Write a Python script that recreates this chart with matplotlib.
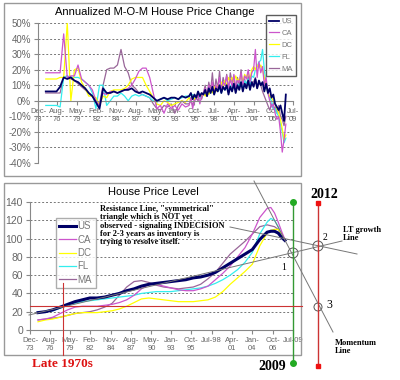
import numpy as np
import matplotlib
matplotlib.use("Agg")
import matplotlib.pyplot as plt
from matplotlib.patches import Rectangle, Circle

# ---- data ----
series = ["US", "CA", "DC", "FL", "MA"]
colors = {"US": "#000066", "CA": "#cc55cc", "DC": "#ffff00", "FL": "#33eeee", "MA": "#996699"}

tick_pos = [1973.917, 1976.583, 1979.333, 1982.083, 1984.833, 1987.583, 1990.333,
            1993.0, 1995.75, 1998.5, 2001.25, 2004.0, 2006.75, 2009.5]
tick_top = ["Dec-\n73", "Aug-\n76", "May-\n79", "Feb-\n82", "Nov-\n84", "Aug-\n87", "May-\n90",
            "Jan-\n93", "Oct-\n95", "Jul-\n98", "Apr-\n01", "Jan-\n04", "Oct-\n06", "Jul-\n09"]
tick_bot = ["Dec-\n73", "Aug-\n76", "May-\n79", "Feb-\n82", "Nov-\n84", "Aug-\n87", "May-\n90",
            "Jan-\n93", "Oct-\n95", "Jul-98", "Apr-\n01", "Jan-\n04", "Oct-\n06", "Jul-09"]

# top chart: semiannual 1975-1994.5, quarterly 1995-2008.5 (annualized % change)
t_top = np.r_[np.arange(1975, 1995, 0.5), np.arange(1995, 2008.51, 0.25)]

us_chg = [6, 6, 6, 6, 9, 15, 14, 15, 13, 12, 10, 8, 5, 3, -1, -5, 8, 5, 5, 6,
          5, 6, 7, 7, 8, 6, 5, 6, 5, 4, 2, 0, 1, 2, 1, 2, 2, 1, 3, 2,
          3, 5, 1, 4, 2, 6, 3, 5, 4, 7, 3, 8, 5, 9, 4, 8, 6, 10, 5, 9,
          7, 10, 4, 9, 6, 11, 5, 10, 7, 12, 6, 11, 8, 13, 7, 12, 9, 14, 8, 13,
          10, 12, 6, 11, 5, 8, 2, 4, -2, -4, -6, -3, -8, -13, 4]
ca_chg = [18, 18, 18, 18, 18, 43, 15, 16, 16, 23, 14, 12, 10, 7, 0, -3, 5, 4, 6, 6,
          5, 6, 7, 8, 10, 14, 19, 21, 21, 15, 5, -5, -3, -8, -2, -5, -3, -6, -2, -4,
          -3, 2, -5, 0, 1, 4, -2, 3, 5, 8, 3, 10, 6, 12, 4, 10, 8, 15, 6, 12,
          10, 16, 8, 14, 9, 17, 7, 13, 12, 18, 10, 16, 14, 20, 12, 18, 20, 33, 15, 25,
          18, 22, 10, 15, 5, 0, -4, -2, -8, -12, -10, -20, -33, -25, -15]
dc_chg = [14, 14, 14, 14, 15, 15, 50, 0, 20, 21, 12, 8, 3, 3, 2, -3, 3, 2, 6, 7,
          7, 7, 8, 10, 14, 15, 15, 15, 10, 6, 2, -2, -3, 0, -1, -3, -2, -1, 0, -1,
          2, 0, 3, 1, 3, 2, 4, 3, 5, 3, 6, 4, 7, 5, 9, 6, 10, 8, 12, 9,
          13, 10, 15, 12, 15, 12, 16, 13, 14, 16, 12, 17, 15, 18, 14, 20, 22, 20, 23, 21,
          23, 20, 15, 10, 5, 3, 2, 0, -2, -5, -8, -12, -18, -25, -22]
fl_chg = [-3, -3, -3, -3, -4, 15, 16, 15, 15, 15, 14, 12, 10, 5, -5, 10, 10, -3, 0, 3,
          3, 5, 3, 0, 3, 4, 3, 4, 3, 2, 0, -1, 1, 2, 0, 1, 2, 1, 2, 3,
          3, 1, 4, 2, 3, 5, 2, 4, 4, 6, 3, 5, 5, 7, 4, 8, 6, 8, 5, 9,
          7, 9, 6, 10, 8, 10, 7, 11, 9, 12, 8, 13, 11, 14, 10, 16, 15, 20, 22, 25,
          26, 33, 20, 10, 5, 2, 0, -5, -5, -8, -10, -15, -20, -27, -24]
ma_chg = [5, 5, 5, 5, 5, 15, 16, 14, 13, 11, 9, 7, 5, 3, 0, -2, 10, 20, 21, 21,
          23, 33, 22, 18, 10, 8, 5, 4, 3, 2, -2, -5, -6, -3, -4, -2, -8, -3, 0, -2,
          -2, 0, -3, 1, 2, 0, 3, 1, 5, 10, 3, 12, 6, 18, 5, 14, 8, 19, 7, 15,
          10, 17, 6, 18, 12, 16, 8, 15, 10, 20, 9, 14, 8, 16, 10, 12, 12, 15, 8, 11,
          10, 6, 3, 0, -3, -6, -2, -5, -4, -8, -3, -10, -12, -16, -10]

# bottom chart: price level index
t_lvl = [1975, 1976, 1977, 1978, 1979, 1980, 1981, 1982, 1983, 1984, 1985, 1986, 1987,
         1988, 1989, 1990, 1991, 1992, 1993, 1994, 1995, 1996, 1997, 1998, 1999, 2000,
         2001, 2002, 2003, 2004, 2005, 2006, 2006.5, 2007, 2007.5, 2008, 2008.4]
us_lvl = [19, 20, 22, 25, 28, 31, 33, 35, 35, 36, 38, 40, 43, 45, 48, 50, 51, 52, 53,
          54, 55, 57, 58, 60, 63, 68, 73, 78, 83, 88, 99, 107, 108, 108, 106, 101, 98]
ca_lvl = [11, 12, 14, 18, 22, 25, 26, 26, 26, 27, 28, 30, 33, 38, 45, 50, 50, 48, 46,
          44, 43, 43, 45, 48, 55, 62, 70, 80, 90, 105, 123, 133, 134, 128, 118, 107, 99]
dc_lvl = [9, 11, 12, 14, 16, 18, 19, 19, 19, 20, 21, 23, 26, 30, 34, 35, 34, 33, 32,
          31, 31, 31, 32, 33, 36, 42, 50, 57, 64, 72, 92, 106, 109, 110, 110, 105, 99]
fl_lvl = [20, 20, 21, 24, 27, 29, 31, 32, 33, 34, 35, 36, 37, 38, 40, 41, 42, 42, 42,
          43, 44, 45, 46, 48, 51, 55, 60, 66, 74, 85, 105, 118, 122, 120, 113, 104, 98]
ma_lvl = [11, 12, 13, 14, 16, 18, 19, 20, 22, 25, 29, 38, 47, 53, 54, 52, 49, 47, 46,
          45, 46, 47, 50, 56, 63, 73, 83, 90, 97, 105, 113, 115, 114, 113, 110, 104, 99]

chg = {"US": us_chg, "CA": ca_chg, "DC": dc_chg, "FL": fl_chg, "MA": ma_chg}
lvl = {"US": us_lvl, "CA": ca_lvl, "DC": dc_lvl, "FL": fl_lvl, "MA": ma_lvl}

plt.rcParams['font.family'] = ['Liberation Sans', 'DejaVu Sans']
W, H = 400, 380
fig = plt.figure(figsize=(4, 3.8), dpi=100)
tc = "#666666"

def px(x0, y0, x1, y1):
    return [x0 / W, 1 - y1 / H, (x1 - x0) / W, (y1 - y0) / H]

# ---- top chart ----
ax1 = fig.add_axes(px(38, 23, 293, 163))
for s in ["MA", "FL", "DC", "CA", "US"]:
    ax1.plot(t_top, chg[s], color=colors[s], lw=1.3 if s == "US" else 0.9,
             label=s, zorder=3 if s == "US" else 2)
ax1.set_xlim(tick_pos[0], tick_pos[-1])
ax1.set_ylim(-40, 50)
ax1.set_yticks(range(-40, 51, 10))
ax1.set_yticklabels([f"{v}%" for v in range(-40, 51, 10)])
ax1.set_xticks(tick_pos)
ax1.set_xticklabels(tick_top, linespacing=1.25)
ax1.spines['bottom'].set_position(('data', 0))
ax1.spines['bottom'].set_color("#888888")
ax1.spines['left'].set_color("#888888")
ax1.spines['top'].set_visible(False)
ax1.spines['right'].set_visible(False)
ax1.grid(axis='y', ls=(0, (2, 2)), color="#777777", lw=0.7)
ax1.tick_params(axis='y', labelsize=7, colors="#888888", labelcolor=tc, length=3, pad=2)
ax1.tick_params(axis='x', labelsize=5.5, colors="#888888", labelcolor=tc, length=3, pad=2)
ax1.set_facecolor("none")
h, l = ax1.get_legend_handles_labels()
order = [series.index(x) for x in l]
hl = sorted(zip(order, h, l))
leg1 = ax1.legend([x[1] for x in hl], [x[2] for x in hl], loc="upper right",
                  bbox_to_anchor=(300 / W, 1 - 11 / H), bbox_transform=fig.transFigure,
                  fontsize=5.5, handlelength=1.4, handletextpad=0.3, labelspacing=0.6,
                  borderpad=0.4, frameon=True, fancybox=False, edgecolor="#333333")
for t in leg1.get_texts():
    t.set_color("#777777")

# ---- bottom chart ----
ax2 = fig.add_axes(px(30, 202, 293, 330))
for s in ["MA", "FL", "DC", "CA", "US"]:
    ax2.plot(t_lvl, lvl[s], color=colors[s], lw=2.2 if s == "US" else 0.9,
             label=s, zorder=3 if s == "US" else 2)
ax2.set_xlim(tick_pos[0], tick_pos[-1])
ax2.set_ylim(0, 140)
ax2.set_yticks(range(0, 141, 20))
ax2.set_xticks(tick_pos)
ax2.set_xticklabels(tick_bot, linespacing=1.2)
for sp in ['top', 'right']:
    ax2.spines[sp].set_visible(False)
ax2.spines['bottom'].set_color("#888888")
ax2.spines['left'].set_color("#888888")
ax2.grid(axis='y', ls=(0, (2, 2)), color="#777777", lw=0.7)
ax2.tick_params(axis='y', labelsize=7.5, colors="#888888", labelcolor=tc, length=3, pad=2)
ax2.tick_params(axis='x', labelsize=5.5, colors="#888888", labelcolor=tc, length=3, pad=2)
ax2.set_facecolor("none")
h, l = ax2.get_legend_handles_labels()
order = [series.index(x) for x in l]
hl = sorted(zip(order, h, l))
leg2 = ax2.legend([x[1] for x in hl], [x[2] for x in hl], loc="upper left",
                  bbox_to_anchor=(51 / W, 1 - 213 / H), bbox_transform=fig.transFigure,
                  fontsize=7, handlelength=1.7, handletextpad=0.2, labelspacing=0.35,
                  borderpad=0.35, frameon=True, fancybox=False, edgecolor="#999999")
for t in leg2.get_texts():
    t.set_color("#777777")

# ---- overlay with frames and hand-drawn annotations ----
ov = fig.add_axes([0, 0, 1, 1], zorder=10)
ov.set_xlim(0, W)
ov.set_ylim(H, 0)
ov.axis("off")
ov.patch.set_alpha(0)

ov.add_patch(Rectangle((4, 3), 297, 173, fill=False, ec="#999999", lw=1))
ov.add_patch(Rectangle((4, 183), 297, 172, fill=False, ec="#999999", lw=1))

ov.text(155, 12, "Annualized M-O-M House Price Change", ha="center", va="center", fontsize=8)
ov.text(153, 192, "House Price Level", ha="center", va="center", fontsize=8)

grey = "#777777"
ov.plot([254, 333], [181, 332], color=grey, lw=0.7)   # momentum line
ov.plot([230, 357], [227, 254], color=grey, lw=0.7)   # resistance line
ov.plot([29, 342], [315, 241], color=grey, lw=0.7)    # LT growth line
for cx, cy, r in [(293, 253, 5), (318, 246, 5), (318, 307, 4)]:
    ov.add_patch(Circle((cx, cy), r, fill=False, ec="#555555", lw=0.7))

# 2009 / 2012 markers
ov.plot([293, 293], [202, 363], color="#339933", lw=1)
ov.plot([293, 293], [202, 363], "o", color="#22aa22", ms=4)
ov.plot([318, 318], [203, 366], color="#cc3333", lw=1)
ov.plot([318, 318], [203, 366], "s", color="#ee1111", ms=3.5)
ov.plot([30, 302], [306, 306], color="#cc3333", lw=0.8)
ov.plot([63, 63], [283, 355], color="#cc3333", lw=0.8)

serif = ['Liberation Serif', 'DejaVu Serif']
ov.text(324, 194, "2012", ha="center", va="center", fontsize=10, fontweight="bold", family=serif)
ov.text(272, 367, "2009", ha="center", va="center", fontsize=10, fontweight="bold", family=serif)
ov.text(62, 364, "Late 1970s", ha="center", va="center", fontsize=9.5, fontweight="bold",
        color="#dd1111", family=serif)
ov.text(343, 234, "LT growth\nLine", ha="left", va="center", fontsize=6, fontweight="bold",
        family=serif, linespacing=1.1)
ov.text(335, 347, "Momentum\nLine", ha="left", va="center", fontsize=6, fontweight="bold",
        family=serif, linespacing=1.1)
ov.text(284, 267, "1", ha="center", va="center", fontsize=7, family=serif)
ov.text(325, 237, "2", ha="center", va="center", fontsize=7, family=serif)
ov.text(329, 305, "3", ha="center", va="center", fontsize=8.5, family=serif)
ov.text(100, 205, 'Resistance Line, "symmetrical"\ntriangle which is NOT yet\n'
        'observed - signaling INDECISION\nfor 2-3 years as inventory is\n'
        'trying to resolve itself.', ha="left", va="top", fontsize=6, fontweight="bold",
        family=serif, linespacing=1.05)

fig.savefig("out.png", dpi=100)
